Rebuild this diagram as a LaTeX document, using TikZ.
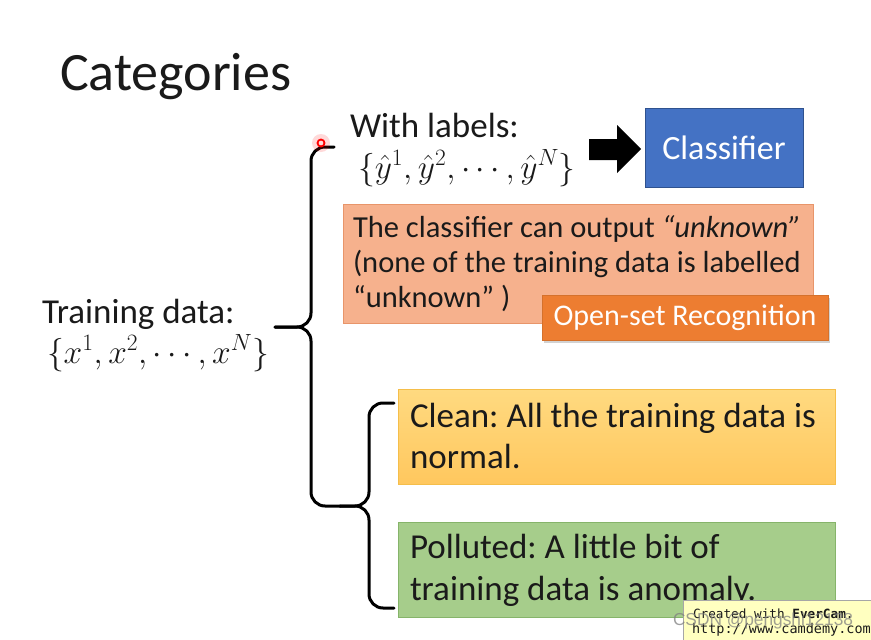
\documentclass[tikz,border=0pt]{standalone}
\usepackage{fix-cm}
\usepackage{fontspec}
\setmainfont{Carlito}
\newfontfamily\monof{DejaVu Sans Mono}
\newfontfamily\arialf{Liberation Sans}
\usetikzlibrary{shadows}
\frenchspacing
\definecolor{clsblue}{HTML}{4472C4}
\definecolor{clsborder}{HTML}{2F528F}
\definecolor{salmon}{HTML}{F6B18D}
\definecolor{salmonborder}{HTML}{E8956A}
\definecolor{openorange}{HTML}{ED7D31}
\definecolor{cleantop}{HTML}{FFDA80}
\definecolor{cleanbot}{HTML}{FFC75E}
\definecolor{cleanborder}{HTML}{F5BE4A}
\definecolor{pollgreen}{HTML}{A6CD8B}
\definecolor{pollborder}{HTML}{86B46A}
\definecolor{everyellow}{HTML}{FFFFC0}
\definecolor{inkc}{HTML}{1A1A1A}
\tikzset{
  txt/.style={anchor=base west, inner sep=0pt, outer sep=0pt, text=inkc},
  bodyfont/.style={font=\fontsize{35}{42}\selectfont},
  mathfont/.style={font=\fontsize{33.5}{40}\selectfont},
  boxfont/.style={font=\fontsize{30.5}{36}\selectfont},
  brace/.style={line width=3pt, rounded corners=14pt, line cap=round},
  clsbox/.style={draw=clsborder, line width=1pt, fill=clsblue, text=white, font=\fontsize{34}{40}\selectfont, inner sep=0pt},
  salmonbox/.style={draw=salmonborder, line width=0.8pt, fill=salmon, inner sep=0pt},
  openbox/.style={fill=openorange, draw=openorange!90!black, line width=0.6pt, text=white, font=\fontsize{30}{36}\selectfont, inner sep=0pt, drop shadow={shadow xshift=2pt, shadow yshift=-3pt, opacity=0.35}},
  cleanbox/.style={draw=cleanborder, line width=1pt, top color=cleantop, bottom color=cleanbot, inner sep=0pt},
  pollbox/.style={draw=pollborder, line width=1pt, fill=pollgreen, inner sep=0pt},
}
\begin{document}
\begin{tikzpicture}[x=1pt,y=-1pt]
\useasboundingbox (0,0) rectangle (871,640);
\fill[white] (0,0) rectangle (871,640);

% title
\node[txt, font=\fontsize{54}{60}\selectfont] (title) at (60,90) {Categories};

% training data
\node[txt, bodyfont] (train) at (42,323) {Training data:};
\node[txt, mathfont] (trainset) at (47,363) {$\{x^1,x^2,\cdots,x^N\}$};

% with labels
\node[txt, bodyfont] (wl) at (350,137) {With labels:};
\node[txt, mathfont] (wlset) at (358,178) {$\{\hat{y}^1,\hat{y}^2,\cdots,\hat{y}^N\}$};

% block arrow
\fill[black] (589,139) -- (617,139) -- (617,125) -- (641,149) -- (617,173) -- (617,160) -- (589,160) -- cycle;

% classifier
\node[clsbox, minimum width=158pt, minimum height=79pt] (cls) at (724,147.5) {Classifier};

% salmon box
\node[salmonbox, minimum width=470pt, minimum height=119pt, anchor=north west] (unk) at (343,204) {};
\node[txt, boxfont] (u1) at (353,237) {The classifier can output \textit{“unknown”}};
\node[txt, boxfont] (u2) at (353,272) {(none of the training data is labelled};
\node[txt, boxfont] (u3) at (353,307) {“unknown” )};

% open-set
\node[openbox, minimum width=286pt, minimum height=45pt] (open) at (685,317.5) {Open-set Recognition};

% clean
\node[cleanbox, minimum width=437pt, minimum height=95pt, anchor=north west] (clean) at (398,389) {};
\node[txt, bodyfont] (c1) at (410,427) {Clean: All the training data is};
\node[txt, bodyfont] (c2) at (410,468) {normal.};

% polluted
\node[pollbox, minimum width=437pt, minimum height=95pt, anchor=north west] (poll) at (398,522) {};
\node[txt, bodyfont] (p1) at (410,558) {Polluted: A little bit of};
\node[txt, bodyfont] (p2) at (410,600) {training data is anomaly.};

% big brace
\coordinate (bt) at (334,147);
\coordinate (btip) at (275,327);
\coordinate (stip) at (340,506);
\draw[brace] (bt) -- (311,147) -- (311,327) -- (btip);
\draw[brace] (btip) -- (311,327) -- (311,506) -- (stip);
% small brace
\coordinate (st) at (394,403);
\coordinate (sb) at (394,608);
\draw[brace] (stip) -- (369,506) -- (369,403) -- (st);
\draw[brace] (stip) -- (369,506) -- (369,608) -- (sb);

% cursor
\fill[red, opacity=0.15] (321,143) circle (9);
\draw[red, line width=1.8pt] (321,143) circle (3.5);

% evercam
\node[draw=gray!70, fill=everyellow, line width=0.6pt, minimum width=200pt, minimum height=45pt, anchor=north west, inner sep=0pt] (ever) at (683,600) {};
\node[txt, font=\monof\fontsize{12.7}{14}\selectfont] (e1) at (693,618) {Created with \textbf{EverCam}.};
\node[txt, font=\monof\fontsize{13.5}{15}\selectfont] (e2) at (692,633) {http://www.camdemy.com};
\node[txt, font=\arialf\fontsize{17.3}{20}\selectfont, text=gray, opacity=0.75] (csdn) at (673,625) {CSDN @pengshi12138};
\end{tikzpicture}
\end{document}
